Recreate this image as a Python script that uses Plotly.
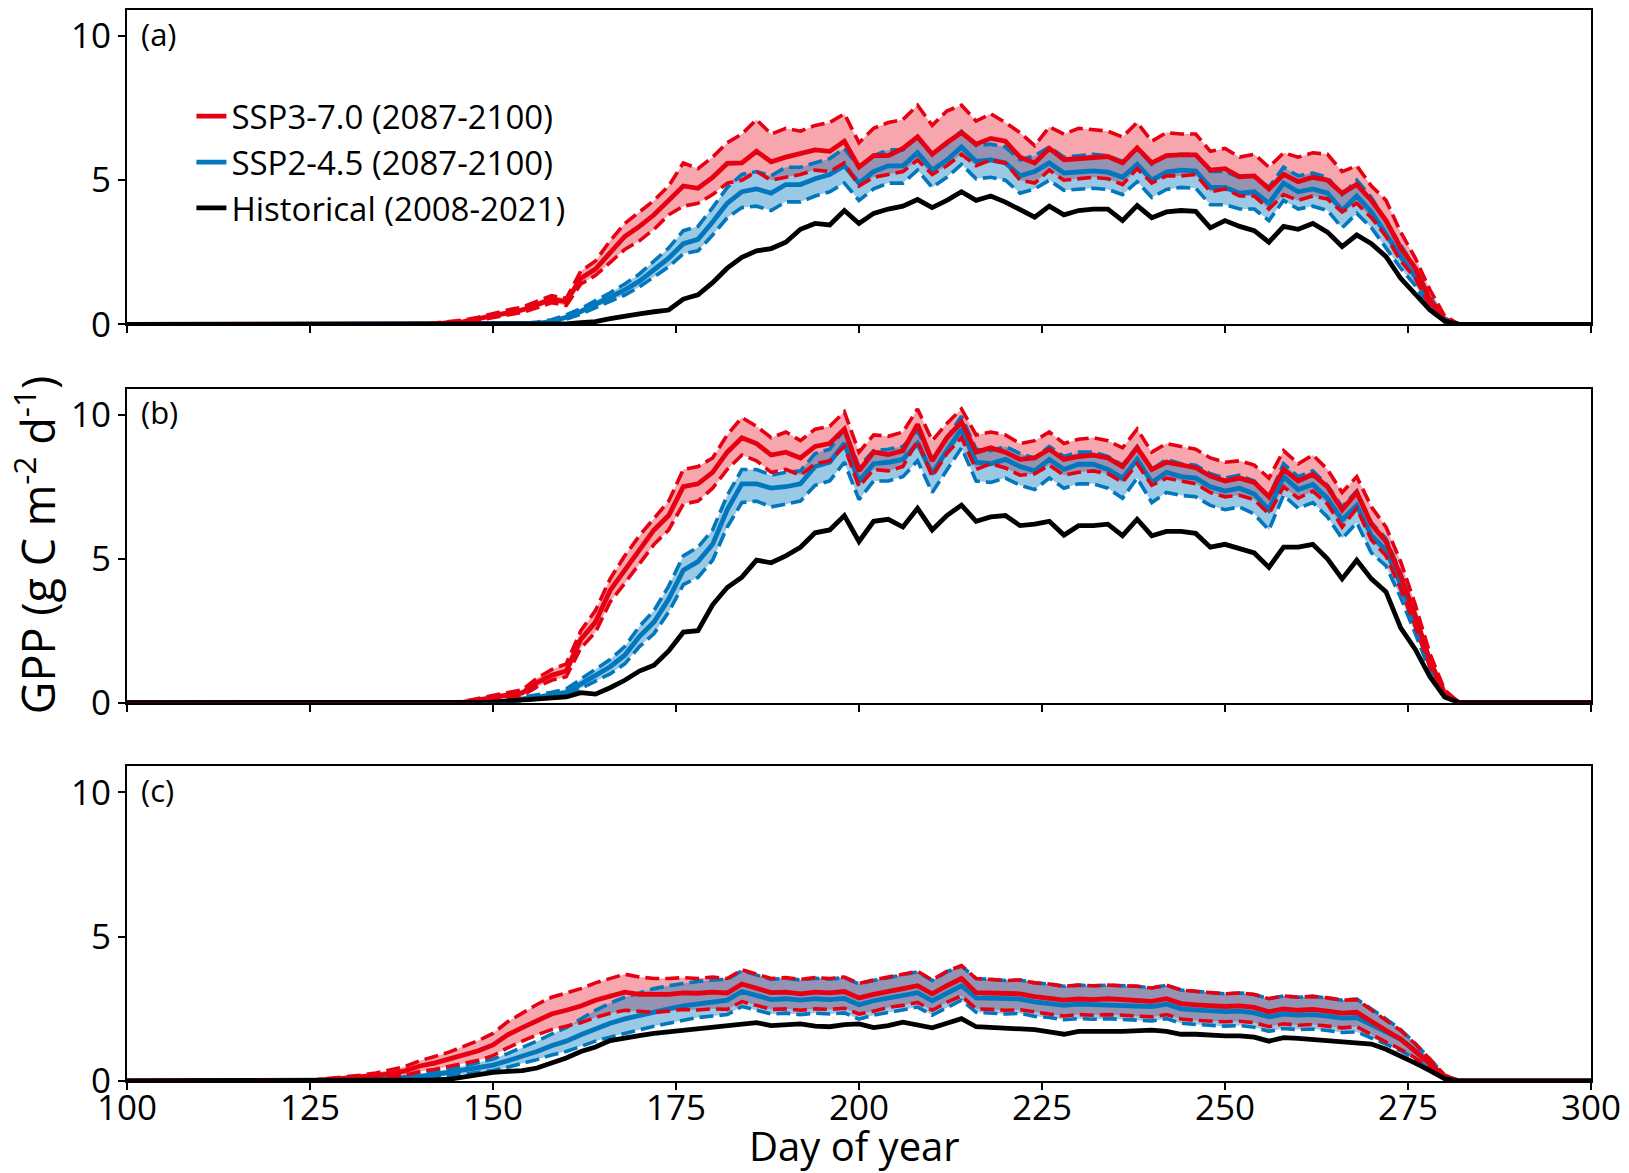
import plotly.graph_objects as go

# ---------------- data (GPP, g C m-2 d-1), days 120..282 every 2 days ----------------
DAYS = list(range(120, 283, 2))
X_TICKS = [100, 125, 150, 175, 200, 225, 250, 275, 300]
Y_TICKS = [0, 5, 10]

# Panel (a)
A_HIST = [0, 0, 0, 0, 0,
          0, 0, 0, 0, 0,
          0, 0, 0, 0, 0,
          0, 0, 0, 0, 0,
          0.02, 0.06, 0.1, 0.2, 0.3,
          0.37, 0.44, 0.5, 0.88, 1.03,
          1.45, 1.95, 2.33, 2.55, 2.63,
          2.85, 3.3, 3.5, 3.45, 3.95,
          3.5, 3.85, 4.0, 4.1, 4.33,
          4.05, 4.3, 4.6, 4.3, 4.45,
          4.24, 4.0, 3.72, 4.1, 3.8,
          3.95, 4.0, 4.0, 3.6, 4.12,
          3.7, 3.9, 3.95, 3.92, 3.35,
          3.6, 3.4, 3.25, 2.85, 3.4,
          3.3, 3.5, 3.2, 2.7, 3.1,
          2.8, 2.35, 1.6, 1.05, 0.5,
          0.12, 0]
A_370_MEAN = [0, 0, 0, 0, 0,
              0, 0, 0, 0, 0,
              0, 0.02, 0.06, 0.1, 0.2,
              0.3, 0.4, 0.5, 0.68, 0.88,
              0.78, 1.6, 1.92, 2.5, 3.05,
              3.4, 3.8, 4.3, 4.8, 4.72,
              5.1, 5.58, 5.6, 6.0, 5.64,
              5.8, 5.93, 6.05, 6.0, 6.35,
              5.45, 5.85, 5.85, 6.1, 6.5,
              5.9, 6.3, 6.65, 6.25, 6.45,
              6.35, 5.8, 5.6, 6.1, 5.71,
              5.75, 5.8, 5.82, 5.6, 6.12,
              5.6, 5.85, 5.88, 5.88, 5.35,
              5.4, 5.12, 5.15, 4.7, 5.2,
              4.95, 5.1, 5.0, 4.55, 4.85,
              4.3, 3.6, 2.65, 1.95, 0.85,
              0.15, 0]
A_370_HI = [0, 0, 0, 0, 0,
            0, 0, 0, 0, 0,
            0, 0.05, 0.1, 0.15, 0.25,
            0.38, 0.5, 0.6, 0.8, 1.0,
            0.9, 1.85, 2.2, 2.9, 3.5,
            3.9, 4.3, 4.8, 5.6, 5.4,
            5.8, 6.3, 6.6, 7.1, 6.6,
            6.8, 6.7, 6.9, 7.0, 7.3,
            6.3, 6.8, 7.0, 7.1, 7.6,
            6.9, 7.4, 7.6, 7.05, 7.3,
            7.0, 6.65, 6.2, 6.85, 6.6,
            6.8, 6.76, 6.7, 6.5, 7.0,
            6.35, 6.65, 6.6, 6.6, 6.0,
            6.1, 5.8, 5.9, 5.45, 5.95,
            5.8, 5.95, 5.9, 5.3, 5.5,
            4.8, 4.3, 3.2, 2.3, 1.2,
            0.3, 0]
A_370_LO = [0, 0, 0, 0, 0,
            0, 0, 0, 0, 0,
            0, 0, 0.03, 0.06, 0.15,
            0.24, 0.32, 0.42, 0.58, 0.75,
            0.66, 1.4, 1.7, 2.15, 2.6,
            2.9, 3.3, 3.8, 4.1, 4.2,
            4.5, 4.9, 5.0, 5.3, 5.0,
            5.1, 5.2, 5.35, 5.3, 5.6,
            4.8, 5.1, 5.2, 5.3, 5.7,
            5.2, 5.5, 5.9, 5.5, 5.7,
            5.6, 5.0, 4.9, 5.35, 5.0,
            5.05, 5.1, 5.05, 4.85, 5.4,
            4.9, 5.15, 5.15, 5.2, 4.6,
            4.7, 4.45, 4.45, 4.0, 4.5,
            4.3, 4.45, 4.35, 3.9, 4.2,
            3.7, 3.05, 2.2, 1.6, 0.65,
            0.1, 0]
A_245_MEAN = [0, 0, 0, 0, 0,
              0, 0, 0, 0, 0,
              0, 0, 0, 0, 0,
              0, 0, 0.02, 0.04, 0.1,
              0.25, 0.45, 0.7, 0.95, 1.2,
              1.5, 1.9, 2.3, 2.8, 2.95,
              3.55, 4.2, 4.6, 4.7, 4.55,
              4.85, 4.85, 5.05, 5.2, 5.5,
              4.9, 5.3, 5.5, 5.5, 5.95,
              5.35, 5.7, 6.15, 5.65, 5.7,
              5.6, 5.15, 5.3, 5.6, 5.25,
              5.28, 5.32, 5.28, 5.1, 5.55,
              5.0, 5.28, 5.35, 5.32, 4.75,
              4.75, 4.55, 4.6, 4.2, 4.9,
              4.6, 4.7, 4.55, 3.95, 4.45,
              3.9, 3.1, 2.35, 1.65, 0.75,
              0.15, 0]
A_245_HI = [0, 0, 0, 0, 0,
            0, 0, 0, 0, 0,
            0, 0, 0, 0, 0,
            0, 0.02, 0.04, 0.08, 0.16,
            0.33, 0.55, 0.82, 1.1, 1.4,
            1.75, 2.2, 2.65, 3.25, 3.4,
            4.05, 4.75, 5.2, 5.3, 5.15,
            5.45, 5.45, 5.6, 5.75, 6.1,
            5.45, 5.85, 6.05, 6.05, 6.5,
            5.9, 6.25, 6.7, 6.2, 6.25,
            6.15, 5.7, 5.85, 6.15, 5.8,
            5.85, 5.9, 5.85, 5.65, 6.1,
            5.55, 5.85, 5.9, 5.9, 5.3,
            5.3, 5.1, 5.15, 4.75, 5.45,
            5.15, 5.25, 5.1, 4.5, 5.0,
            4.4, 3.55, 2.75, 1.95, 0.95,
            0.22, 0]
A_245_LO = [0, 0, 0, 0, 0,
            0, 0, 0, 0, 0,
            0, 0, 0, 0, 0,
            0, 0, 0, 0.02, 0.06,
            0.18, 0.36, 0.58, 0.8, 1.02,
            1.3, 1.65, 2.0, 2.45, 2.55,
            3.1, 3.7, 4.05, 4.1, 3.95,
            4.25, 4.25, 4.45, 4.6, 4.9,
            4.3, 4.7, 4.9, 4.9, 5.35,
            4.75, 5.1, 5.55, 5.05, 5.1,
            5.0, 4.55, 4.7, 5.0, 4.65,
            4.68, 4.72, 4.68, 4.5, 4.95,
            4.4, 4.68, 4.75, 4.72, 4.15,
            4.15, 4.0, 4.0, 3.6, 4.3,
            4.0, 4.1, 3.95, 3.35, 3.85,
            3.35, 2.65, 1.95, 1.35, 0.55,
            0.08, 0]

# Panel (b)
B_HIST = [0, 0, 0, 0, 0,
          0, 0, 0, 0, 0,
          0, 0, 0, 0, 0,
          0.02, 0.06, 0.1, 0.13, 0.16,
          0.2, 0.35, 0.3, 0.52, 0.78,
          1.1, 1.3, 1.8, 2.45, 2.5,
          3.4, 4.0, 4.36, 4.95, 4.86,
          5.1, 5.4, 5.9, 6.0, 6.5,
          5.6, 6.3, 6.37, 6.1, 6.75,
          6.0, 6.5, 6.86, 6.3, 6.45,
          6.5, 6.15, 6.2, 6.3, 5.82,
          6.15, 6.15, 6.2, 5.8, 6.37,
          5.8, 5.95, 5.95, 5.88, 5.4,
          5.5, 5.35, 5.2, 4.7, 5.4,
          5.4, 5.5, 5.0, 4.3, 4.95,
          4.3, 3.85, 2.6, 1.85, 0.9,
          0.2, 0]
B_370_MEAN = [0, 0, 0, 0, 0,
              0, 0, 0, 0, 0,
              0, 0, 0, 0.02, 0.1,
              0.2, 0.26, 0.34, 0.7, 0.95,
              1.1, 2.2, 2.8, 3.9, 4.6,
              5.3, 6.0, 6.5, 7.5, 7.6,
              8.0, 8.7, 9.2, 9.0, 8.6,
              8.7, 8.5, 8.9, 9.0, 9.5,
              8.05, 8.7, 8.62, 8.75, 9.66,
              8.4, 9.2, 9.75, 8.7, 8.85,
              8.7, 8.45, 8.5, 8.8, 8.45,
              8.55, 8.6, 8.5, 8.2, 8.85,
              8.1, 8.35, 8.25, 8.16, 7.87,
              7.7, 7.8, 7.65, 7.15, 8.1,
              7.7, 7.93, 7.5, 6.7, 7.3,
              6.2, 5.6, 4.4, 3.0, 1.45,
              0.35, 0]
B_370_HI = [0, 0, 0, 0, 0,
            0, 0, 0, 0, 0,
            0, 0, 0, 0.05, 0.15,
            0.28, 0.36, 0.45, 0.85, 1.15,
            1.35, 2.5, 3.2, 4.3, 5.1,
            5.8, 6.4, 7.0, 8.1, 8.2,
            8.5, 9.3, 9.9, 9.6, 9.2,
            9.4, 9.1, 9.5, 9.6, 10.1,
            8.7, 9.3, 9.25, 9.4, 10.2,
            9.1, 9.7, 10.2, 9.3, 9.4,
            9.3, 9.0, 9.1, 9.4, 9.0,
            9.15, 9.2, 9.1, 8.85, 9.5,
            8.7, 9.0, 8.9, 8.8, 8.5,
            8.35, 8.4, 8.25, 7.8, 8.75,
            8.3, 8.6, 8.1, 7.3, 7.85,
            6.8, 6.1, 4.9, 3.4, 1.7,
            0.45, 0]
B_370_LO = [0, 0, 0, 0, 0,
            0, 0, 0, 0, 0,
            0, 0, 0, 0, 0.05,
            0.12, 0.18, 0.25, 0.55, 0.78,
            0.9, 1.9, 2.45, 3.5, 4.15,
            4.8, 5.5, 6.0, 6.9, 7.0,
            7.45, 8.1, 8.6, 8.4, 8.0,
            8.1, 7.9, 8.3, 8.4, 8.9,
            7.5, 8.1, 8.05, 8.2, 9.1,
            7.85, 8.65, 9.2, 8.1, 8.3,
            8.15, 7.9, 7.95, 8.25, 7.9,
            8.0, 8.05, 7.95, 7.65, 8.3,
            7.55, 7.8, 7.7, 7.6, 7.3,
            7.15, 7.2, 7.05, 6.55, 7.5,
            7.1, 7.35, 6.9, 6.1, 6.75,
            5.65, 5.1, 3.95, 2.65, 1.25,
            0.25, 0]
B_245_MEAN = [0, 0, 0, 0, 0,
              0, 0, 0, 0, 0,
              0, 0, 0, 0, 0,
              0, 0.06, 0.12, 0.2, 0.26,
              0.35, 0.65, 0.95, 1.25, 1.65,
              2.3, 2.8, 3.6, 4.6, 4.9,
              5.5, 6.7, 7.6, 7.6, 7.45,
              7.5, 7.6, 8.2, 8.35, 9.0,
              7.7, 8.3, 8.35, 8.45, 9.0,
              7.95, 8.75, 9.5, 8.35, 8.3,
              8.45, 8.2, 8.05, 8.45, 8.1,
              8.28, 8.28, 8.1, 7.8, 8.45,
              7.65, 8.0, 7.85, 7.8, 7.5,
              7.35, 7.45, 7.25, 6.7, 7.85,
              7.4, 7.58, 7.1, 6.35, 6.85,
              5.8, 5.3, 4.1, 2.75, 1.3,
              0.25, 0]
B_245_HI = [0, 0, 0, 0, 0,
            0, 0, 0, 0, 0,
            0, 0, 0, 0, 0,
            0, 0.1, 0.18, 0.28, 0.36,
            0.48, 0.82, 1.15, 1.5, 1.95,
            2.65, 3.2, 4.05, 5.1, 5.4,
            6.0, 7.2, 8.1, 8.1, 7.9,
            8.0, 8.05, 8.65, 8.8, 9.5,
            8.2, 8.75, 8.8, 8.9, 9.45,
            8.4, 9.2, 9.95, 8.8, 8.75,
            8.9, 8.65, 8.5, 8.9, 8.55,
            8.7, 8.7, 8.55, 8.25, 8.9,
            8.1, 8.45, 8.3, 8.25, 7.95,
            7.8, 7.9, 7.7, 7.15, 8.3,
            7.85, 8.05, 7.55, 6.8, 7.35,
            6.25, 5.7, 4.5, 3.05, 1.5,
            0.33, 0]
B_245_LO = [0, 0, 0, 0, 0,
            0, 0, 0, 0, 0,
            0, 0, 0, 0, 0,
            0, 0.02, 0.06, 0.12, 0.17,
            0.24, 0.5, 0.75, 1.0, 1.35,
            1.95, 2.4, 3.15, 4.1, 4.35,
            4.95, 6.1, 6.95, 7.0, 6.8,
            6.9, 7.0, 7.55, 7.7, 8.35,
            7.05, 7.7, 7.7, 7.85, 8.4,
            7.3, 8.1, 8.85, 7.7, 7.65,
            7.8, 7.55, 7.4, 7.8, 7.45,
            7.6, 7.6, 7.45, 7.1, 7.8,
            6.95, 7.3, 7.2, 7.15, 6.85,
            6.7, 6.8, 6.55, 6.0, 7.2,
            6.75, 6.95, 6.45, 5.7, 6.25,
            5.2, 4.75, 3.65, 2.4, 1.1,
            0.18, 0]

# Panel (c)
C_HIST = [0, 0, 0, 0, 0,
          0, 0, 0, 0, 0,
          0.02, 0.04, 0.06, 0.15, 0.25,
          0.3, 0.33, 0.36, 0.45, 0.62,
          0.8, 1.02, 1.18, 1.4, 1.5,
          1.57, 1.65, 1.7, 1.78, 1.82,
          1.85, 1.9, 1.98, 2.02, 1.92,
          1.95, 1.98, 1.9, 1.88, 1.95,
          1.98, 1.85, 1.92, 2.04, 1.95,
          1.84, 2.0, 2.16, 1.88, 1.86,
          1.84, 1.82, 1.78, 1.7, 1.62,
          1.72, 1.74, 1.72, 1.72, 1.74,
          1.76, 1.72, 1.62, 1.62, 1.58,
          1.56, 1.56, 1.52, 1.38, 1.5,
          1.48, 1.44, 1.44, 1.38, 1.36,
          1.28, 1.1, 0.88, 0.62, 0.36,
          0.08, 0]
C_370_MEAN = [0, 0, 0.01, 0.03, 0.06,
              0.1, 0.13, 0.18, 0.25, 0.35,
              0.52, 0.62, 0.75, 0.9, 1.05,
              1.25, 1.6, 1.85, 2.1, 2.32,
              2.45, 2.6, 2.8, 2.95, 3.08,
              3.0, 2.98, 3.0, 3.05, 3.04,
              3.08, 3.05, 3.36, 3.2, 3.06,
              3.08, 3.02, 3.08, 3.05, 3.1,
              2.88, 3.0, 3.12, 3.2, 3.3,
              3.02, 3.3, 3.55, 3.06, 3.05,
              3.0, 3.02, 2.92, 2.88, 2.8,
              2.84, 2.82, 2.85, 2.82, 2.8,
              2.76, 2.85, 2.68, 2.64, 2.6,
              2.58, 2.6, 2.55, 2.4, 2.5,
              2.45, 2.48, 2.42, 2.35, 2.38,
              2.05, 1.75, 1.45, 1.05, 0.6,
              0.15, 0]
C_370_HI = [0, 0.01, 0.02, 0.05, 0.09,
            0.15, 0.2, 0.28, 0.38, 0.5,
            0.7, 0.85, 1.0, 1.2, 1.4,
            1.65, 2.05, 2.35, 2.65, 2.9,
            3.05, 3.2, 3.4, 3.55, 3.7,
            3.6, 3.55, 3.55, 3.58, 3.55,
            3.6, 3.55, 3.85, 3.7, 3.55,
            3.58, 3.52, 3.58, 3.55, 3.6,
            3.38, 3.5, 3.6, 3.7, 3.8,
            3.5, 3.8, 4.0, 3.55, 3.52,
            3.48, 3.5, 3.4, 3.36, 3.28,
            3.32, 3.3, 3.32, 3.3, 3.28,
            3.22, 3.32, 3.15, 3.1, 3.05,
            3.02, 3.05, 3.0, 2.85, 2.95,
            2.9, 2.93, 2.88, 2.8, 2.82,
            2.45, 2.1, 1.75, 1.28, 0.75,
            0.2, 0]
C_370_LO = [0, 0, 0, 0.01, 0.03,
            0.05, 0.07, 0.1, 0.14, 0.2,
            0.33, 0.4, 0.5, 0.6, 0.72,
            0.88, 1.15, 1.38, 1.6, 1.78,
            1.9, 2.02, 2.2, 2.35, 2.45,
            2.4, 2.38, 2.42, 2.48, 2.46,
            2.5, 2.48, 2.75, 2.62, 2.48,
            2.5, 2.45, 2.5, 2.48, 2.52,
            2.32, 2.42, 2.55, 2.62, 2.72,
            2.45, 2.72, 2.95, 2.5, 2.48,
            2.45, 2.47, 2.38, 2.32, 2.25,
            2.3, 2.28, 2.3, 2.28, 2.26,
            2.22, 2.3, 2.15, 2.1, 2.07,
            2.05, 2.07, 2.02, 1.88, 1.98,
            1.93, 1.96, 1.9, 1.84, 1.88,
            1.6, 1.35, 1.1, 0.8, 0.45,
            0.1, 0]
C_245_MEAN = [0, 0, 0, 0, 0.01,
              0.02, 0.04, 0.06, 0.08, 0.12,
              0.16, 0.22, 0.3, 0.38, 0.46,
              0.55, 0.7, 0.85, 1.02, 1.22,
              1.38, 1.6, 1.82, 2.0, 2.15,
              2.28, 2.4, 2.5, 2.6, 2.68,
              2.75, 2.8, 3.1, 2.95, 2.82,
              2.85, 2.8, 2.85, 2.82, 2.86,
              2.64, 2.78, 2.88, 2.98, 3.06,
              2.78, 3.05, 3.3, 2.88, 2.86,
              2.82, 2.84, 2.74, 2.7, 2.62,
              2.66, 2.64, 2.66, 2.64, 2.62,
              2.58, 2.66, 2.5, 2.46, 2.42,
              2.4, 2.42, 2.36, 2.22, 2.32,
              2.28, 2.3, 2.25, 2.18, 2.2,
              1.95, 1.7, 1.45, 1.05, 0.6,
              0.15, 0]
C_245_HI = [0, 0, 0, 0, 0.02,
            0.04, 0.07, 0.1, 0.13, 0.18,
            0.24, 0.32, 0.42, 0.52, 0.63,
            0.76, 0.95, 1.15, 1.38, 1.62,
            1.85, 2.15, 2.45, 2.7, 2.9,
            3.05, 3.2, 3.3, 3.38, 3.45,
            3.5, 3.52, 3.82, 3.68, 3.52,
            3.56, 3.5, 3.56, 3.53, 3.58,
            3.36, 3.48, 3.58, 3.68, 3.78,
            3.48, 3.78, 3.98, 3.55, 3.52,
            3.48, 3.5, 3.4, 3.36, 3.28,
            3.32, 3.3, 3.32, 3.3, 3.28,
            3.22, 3.32, 3.15, 3.1, 3.05,
            3.02, 3.05, 3.0, 2.85, 2.95,
            2.9, 2.93, 2.88, 2.8, 2.84,
            2.5, 2.15, 1.78, 1.3, 0.76,
            0.2, 0]
C_245_LO = [0, 0, 0, 0, 0,
            0.01, 0.02, 0.03, 0.04, 0.06,
            0.09, 0.13, 0.18, 0.24, 0.3,
            0.36, 0.48, 0.6, 0.74, 0.9,
            1.02, 1.2, 1.38, 1.52, 1.65,
            1.78, 1.9, 2.0, 2.1, 2.2,
            2.25, 2.3, 2.58, 2.45, 2.32,
            2.35, 2.3, 2.35, 2.32, 2.36,
            2.14, 2.28, 2.38, 2.48, 2.56,
            2.28, 2.55, 2.8, 2.38, 2.36,
            2.32, 2.34, 2.24, 2.2, 2.12,
            2.16, 2.14, 2.16, 2.14, 2.12,
            2.08, 2.16, 2.0, 1.96, 1.92,
            1.9, 1.92, 1.86, 1.72, 1.82,
            1.78, 1.8, 1.75, 1.68, 1.7,
            1.5, 1.28, 1.05, 0.76, 0.42,
            0.08, 0]

# GPP is zero outside the growing season (day 100 and day 300 edges of the axis)
EDGE_DAYS = (100, 300)

LABELS = ["SSP3-7.0 (2087-2100)", "SSP2-4.5 (2087-2100)", "Historical (2008-2021)"]
PANEL_TAGS = ["(a)", "(b)", "(c)"]

PANELS = [
    dict(hist=A_HIST, r_m=A_370_MEAN, r_hi=A_370_HI, r_lo=A_370_LO,
         b_m=A_245_MEAN, b_hi=A_245_HI, b_lo=A_245_LO),
    dict(hist=B_HIST, r_m=B_370_MEAN, r_hi=B_370_HI, r_lo=B_370_LO,
         b_m=B_245_MEAN, b_hi=B_245_HI, b_lo=B_245_LO),
    dict(hist=C_HIST, r_m=C_370_MEAN, r_hi=C_370_HI, r_lo=C_370_LO,
         b_m=C_245_MEAN, b_hi=C_245_HI, b_lo=C_245_LO),
]

for p in PANELS:
    for k, v in p.items():
        assert len(v) == len(DAYS), (k, len(v))

# ---------------- styling ----------------
RED = "#E60012"
BLUE = "#0277BD"
BLACK = "#000000"
RED_FILL = "rgba(230,0,18,0.35)"
BLUE_FILL = "rgba(2,119,189,0.40)"
FONT = "Open Sans"
SOLID_W = 4.8
DASH_W = 3.6
DASH = "14px,6px"

X = [EDGE_DAYS[0]] + DAYS + [EDGE_DAYS[1]]


def ext(v):
    return [0.0] + list(v) + [0.0]


fig = go.Figure()

DOMAINS = [[0.7064, 1.0], [0.3532, 0.6463], [0.0, 0.2938]]

for i, p in enumerate(PANELS):
    xa = "x" if i == 0 else f"x{i+1}"
    ya = "y" if i == 0 else f"y{i+1}"
    common = dict(x=X, xaxis=xa, yaxis=ya, mode="lines", hoverinfo="skip")

    # bands
    fig.add_trace(go.Scatter(y=ext(p["r_lo"]), line=dict(width=0, color=RED),
                             showlegend=False, **common))
    fig.add_trace(go.Scatter(y=ext(p["r_hi"]), line=dict(width=0, color=RED),
                             fill="tonexty", fillcolor=RED_FILL, showlegend=False, **common))
    fig.add_trace(go.Scatter(y=ext(p["b_lo"]), line=dict(width=0, color=BLUE),
                             showlegend=False, **common))
    fig.add_trace(go.Scatter(y=ext(p["b_hi"]), line=dict(width=0, color=BLUE),
                             fill="tonexty", fillcolor=BLUE_FILL, showlegend=False, **common))

    # blue lines
    for key in ("b_lo", "b_hi"):
        fig.add_trace(go.Scatter(y=ext(p[key]), line=dict(width=DASH_W, color=BLUE, dash=DASH),
                                 showlegend=False, **common))
    fig.add_trace(go.Scatter(y=ext(p["b_m"]), line=dict(width=SOLID_W, color=BLUE),
                             name=LABELS[1], legendrank=2, showlegend=(i == 0), **common))
    # red lines
    for key in ("r_lo", "r_hi"):
        fig.add_trace(go.Scatter(y=ext(p[key]), line=dict(width=DASH_W, color=RED, dash=DASH),
                                 showlegend=False, **common))
    fig.add_trace(go.Scatter(y=ext(p["r_m"]), line=dict(width=SOLID_W, color=RED),
                             name=LABELS[0], legendrank=1, showlegend=(i == 0), **common))
    # historical
    fig.add_trace(go.Scatter(y=ext(p["hist"]), line=dict(width=SOLID_W, color=BLACK),
                             name=LABELS[2], legendrank=3, showlegend=(i == 0), **common))

axis_common = dict(showline=True, linecolor="black", linewidth=2, mirror=True,
                   ticks="outside", ticklen=7, tickwidth=2, tickcolor="black",
                   showgrid=False, zeroline=False,
                   tickfont=dict(family=FONT, size=35, color="black"))

layout = dict(
    width=1629, height=1173,
    margin=dict(l=127, r=34, t=8, b=92),
    paper_bgcolor="white", plot_bgcolor="white",
    font=dict(family=FONT, color="black"),
    showlegend=True,
    legend=dict(x=0.044, y=0.927, xanchor="left", yanchor="top",
                bgcolor="rgba(0,0,0,0)", borderwidth=0,
                font=dict(family=FONT, size=33, color="black"),
                traceorder="normal", tracegroupgap=0),
)

for i in range(3):
    xk = "xaxis" if i == 0 else f"xaxis{i+1}"
    yk = "yaxis" if i == 0 else f"yaxis{i+1}"
    ya = "y" if i == 0 else f"y{i+1}"
    xa = "x" if i == 0 else f"x{i+1}"
    layout[xk] = dict(axis_common, domain=[0, 1], anchor=ya, range=[100, 300],
                      tickvals=X_TICKS, showticklabels=(i == 2),
                      ticklabelstandoff=-12)
    layout[yk] = dict(axis_common, domain=DOMAINS[i], anchor=xa, range=[0, 10.9],
                      tickvals=Y_TICKS)

fig.update_layout(**layout)

annotations = []
for i, tag in enumerate(PANEL_TAGS):
    xa = "x" if i == 0 else f"x{i+1}"
    ya = "y" if i == 0 else f"y{i+1}"
    annotations.append(dict(text=tag, xref=f"{xa} domain", yref=f"{ya} domain",
                            x=0.008, y=0.925, xanchor="left", yanchor="middle",
                            showarrow=False, font=dict(family=FONT, size=31, color="black")))

annotations.append(dict(text="Day of year", xref="paper", yref="paper", x=0.497, y=-0.0598,
                        xanchor="center", yanchor="middle", showarrow=False,
                        font=dict(family=FONT, size=40, color="black")))
annotations.append(dict(text="GPP (g C m<sup>-2</sup> d<sup>-1</sup>)", xref="paper", yref="paper",
                        x=-0.063, y=0.5, xanchor="center", yanchor="middle", textangle=-90,
                        showarrow=False, font=dict(family=FONT, size=45, color="black")))
fig.update_layout(annotations=annotations)

fig.write_html("out.html")
